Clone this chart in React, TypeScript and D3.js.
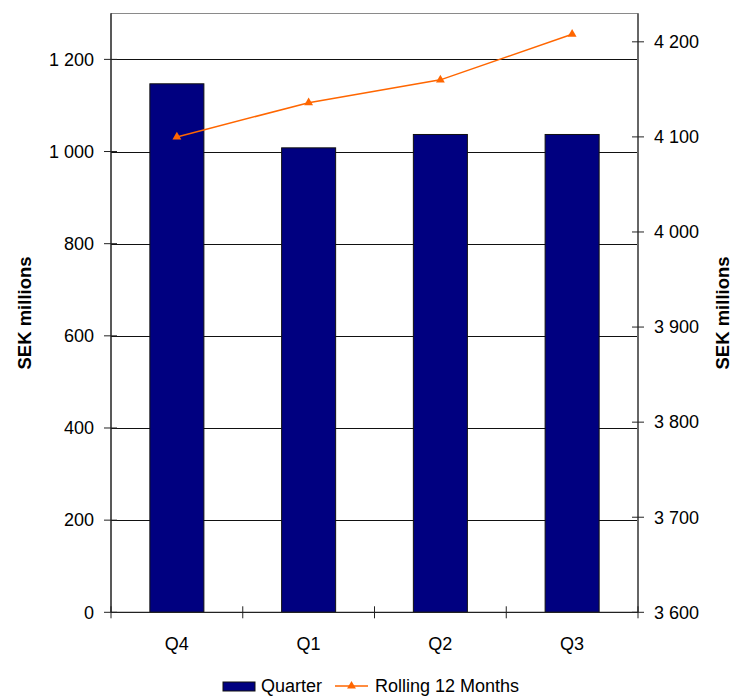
import React from "react";
import * as d3 from "d3";

const categories = ["Q4", "Q1", "Q2", "Q3"];
const quarterValues = [1147, 1008, 1037, 1037];
const rollingValues = [4100, 4136, 4160, 4208];
const leftTicks = [0, 200, 400, 600, 800, 1000, 1200];
const rightTicks = [3600, 3700, 3800, 3900, 4000, 4100, 4200];
const leftTitle = "SEK millions";
const rightTitle = "SEK millions";
const legendLabels = ["Quarter", "Rolling 12 Months"];

const W = 733;
const H = 697;
const plot = { left: 111, right: 638, top: 13.3, bottom: 612.3 };
const FONT = "'Liberation Sans', Arial, sans-serif";
const fmt = (v: number) => {
  const s = String(v);
  return s.length > 3 ? s.slice(0, s.length - 3) + " " + s.slice(s.length - 3) : s;
};

export default function App() {
  const x = d3.scaleBand().domain(categories).range([plot.left, plot.right]).paddingInner(0).paddingOuter(0);
  const yL = d3.scaleLinear().domain([0, 1300]).range([plot.bottom, plot.top]);
  const yR = d3.scaleLinear().domain([3600, 4230]).range([plot.bottom, plot.top]);
  const bw = x.bandwidth() * 0.41;
  const line = d3
    .line<number>()
    .x((_, i) => (x(categories[i]) as number) + x.bandwidth() / 2)
    .y((d) => yR(d));
  const tri = d3.symbol().type(d3.symbolTriangle).size(34);
  const xTicks = [...categories.map((c) => x(c) as number), plot.right];

  return (
    <svg width={W} height={H} style={{ position: "absolute", left: 0, top: 0, background: "#fff" }} fontFamily={FONT}>
      {leftTicks.filter((t) => t > 0).map((t) => (
        <line key={"g" + t} x1={plot.left} x2={plot.right} y1={Math.round(yL(t)) + 0.5} y2={Math.round(yL(t)) + 0.5} stroke="#111" strokeWidth={1} />
      ))}
      <line x1={plot.left} x2={plot.right} y1={13.5} y2={13.5} stroke="#8a8a8a" strokeWidth={1.2} />
      {quarterValues.map((v, i) => {
        const cx = (x(categories[i]) as number) + x.bandwidth() / 2;
        return (
          <rect key={"b" + i} x={cx - bw / 2} y={yL(v)} width={bw} height={plot.bottom - yL(v)} fill="#000080" stroke="#111" strokeWidth={1} />
        );
      })}
      <line x1={plot.left} x2={plot.left} y1={plot.top} y2={plot.bottom} stroke="#222" strokeWidth={1.5} />
      {leftTicks.map((t) => (
        <g key={"l" + t}>
          <line x1={plot.left - 7} x2={plot.left + 6} y1={yL(t)} y2={yL(t)} stroke="#222" strokeWidth={1} />
          <text x={94} y={yL(t)} dy="0.35em" textAnchor="end" fontSize={18} fill="#000">{fmt(t)}</text>
        </g>
      ))}
      <line x1={plot.right} x2={plot.right} y1={plot.top} y2={plot.bottom} stroke="#666" strokeWidth={2} />
      {rightTicks.map((t) => (
        <g key={"r" + t}>
          <line x1={plot.right - 6} x2={plot.right + 6} y1={yR(t)} y2={yR(t)} stroke="#222" strokeWidth={1} />
          <text x={654} y={yR(t)} dy="0.35em" textAnchor="start" fontSize={18} fill="#000">{fmt(t)}</text>
        </g>
      ))}
      <line x1={plot.left} x2={plot.right} y1={plot.bottom} y2={plot.bottom} stroke="#222" strokeWidth={1.2} />
      {xTicks.map((t, i) => (
        <line key={"xt" + i} x1={t} x2={t} y1={plot.bottom - 6} y2={plot.bottom + 6} stroke="#222" strokeWidth={1} />
      ))}
      {categories.map((c) => (
        <text key={"xl" + c} x={(x(c) as number) + x.bandwidth() / 2} y={650} textAnchor="middle" fontSize={18} fill="#000">{c}</text>
      ))}
      <path d={line(rollingValues) || ""} fill="none" stroke="#FF6600" strokeWidth={1.5} />
      {rollingValues.map((v, i) => (
        <path key={"m" + i} d={tri() || ""} transform={`translate(${(x(categories[i]) as number) + x.bandwidth() / 2},${yR(v)})`} fill="#FF6600" />
      ))}
      <text transform={`translate(31,313) rotate(-90)`} textAnchor="middle" fontSize={18.5} fontWeight="bold" fill="#000">{leftTitle}</text>
      <text transform={`translate(729,313) rotate(-90)`} textAnchor="middle" fontSize={18.5} fontWeight="bold" fill="#000">{rightTitle}</text>
      <rect x={223} y={682} width={32} height={9} fill="#000080" stroke="#111" strokeWidth={1} />
      <text x={261} y={692} fontSize={18} fill="#000">{legendLabels[0]}</text>
      <line x1={335} x2={368} y1={686} y2={686} stroke="#FF6600" strokeWidth={1.5} />
      <path d={tri() || ""} transform="translate(351.5,686)" fill="#FF6600" />
      <text x={375} y={692} fontSize={18} fill="#000">{legendLabels[1]}</text>
    </svg>
  );
}
